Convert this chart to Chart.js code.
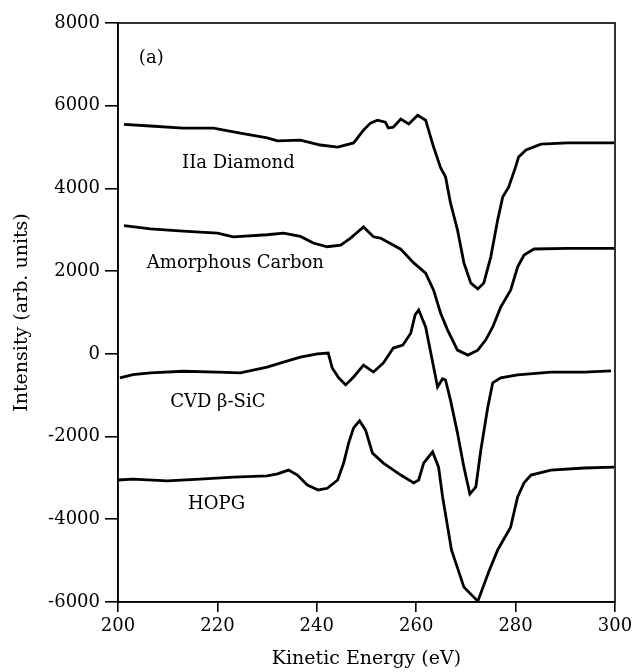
<!DOCTYPE html>
<html>
<head>
<meta charset="utf-8">
<title>Kinetic Energy spectra</title>
<script src="https://cdn.jsdelivr.net/npm/chart.js@4.4.1/dist/chart.umd.min.js"></script>
<style>
  html, body { margin: 0; padding: 0; background: #ffffff; }
  #wrap { width: 632px; height: 672px; }
</style>
</head>
<body>
<div id="wrap"><canvas id="c" width="632" height="672"></canvas></div>
<script>
// Axis ranges and tick values
const xTicks = [200, 220, 240, 260, 280, 300];
const yTicks = [-6000, -4000, -2000, 0, 2000, 4000, 6000, 8000];

// Sample names
const seriesNames = ['IIa Diamond', 'Amorphous Carbon', 'CVD \u03B2-SiC', 'HOPG'];

// IIa Diamond
const diamondE = [201.2, 206.5, 213.1, 219.2, 224.6, 230.0, 232.1, 236.7, 240.7, 244.2, 247.4, 249.4, 250.8, 252.2, 253.8, 254.4, 255.4, 256.9, 258.5, 260.3, 261.9, 263.5, 264.9, 265.9, 266.9, 268.3, 269.6, 271.0, 272.4, 273.6, 275.0, 276.4, 277.4, 278.6, 280.0, 280.6, 282.1, 285.1, 290.5, 299.8];
const diamondI = [5550, 5510, 5460, 5460, 5340, 5220, 5150, 5170, 5050, 5000, 5100, 5410, 5580, 5650, 5600, 5460, 5480, 5680, 5560, 5770, 5650, 5000, 4500, 4280, 3650, 3000, 2200, 1710, 1570, 1710, 2340, 3240, 3790, 4030, 4520, 4760, 4930, 5070, 5100, 5100];

// Amorphous Carbon
const carbonE = [201.2, 206.5, 213.1, 220.0, 223.2, 230.0, 233.3, 236.7, 239.3, 242.1, 244.8, 246.8, 249.4, 251.4, 252.8, 256.9, 259.5, 261.9, 263.5, 264.9, 266.3, 268.3, 270.4, 272.4, 274.0, 275.4, 277.0, 279.0, 280.4, 281.7, 283.7, 290.5, 299.8];
const carbonI = [3100, 3020, 2970, 2920, 2830, 2880, 2920, 2840, 2680, 2590, 2630, 2800, 3070, 2830, 2800, 2530, 2200, 1950, 1540, 990, 580, 90, -30, 90, 340, 650, 1130, 1540, 2100, 2390, 2535, 2550, 2550];

// CVD beta-SiC
const sicE = [200.4, 203.0, 206.5, 213.1, 220.0, 224.6, 230.0, 233.3, 236.7, 240.1, 242.3, 243.1, 244.4, 245.8, 247.4, 249.4, 251.4, 253.4, 255.4, 257.3, 258.9, 259.8, 260.5, 261.9, 263.5, 264.3, 265.3, 265.9, 266.9, 268.3, 269.6, 270.8, 272.0, 273.0, 274.4, 275.4, 277.0, 280.4, 287.1, 293.8, 299.2];
const sicI = [-580, -500, -460, -420, -440, -460, -320, -200, -80, 0, 20, -340, -580, -750, -560, -270, -440, -220, 140, 210, 500, 950, 1060, 650, -320, -800, -600, -630, -1120, -1910, -2740, -3390, -3220, -2330, -1290, -700, -580, -510, -440, -440, -410];

// HOPG
const hopgE = [200.0, 203.0, 209.9, 216.5, 223.2, 230.0, 232.1, 234.3, 236.1, 238.1, 240.3, 242.1, 244.2, 245.4, 246.4, 247.4, 248.6, 249.8, 251.2, 253.4, 256.9, 259.5, 260.5, 261.5, 263.3, 264.5, 265.3, 267.1, 269.6, 272.4, 274.6, 276.4, 279.0, 280.4, 281.7, 283.1, 287.1, 293.8, 299.8];
const hopgI = [-3050, -3030, -3070, -3030, -2980, -2950, -2900, -2810, -2930, -3170, -3290, -3250, -3050, -2640, -2160, -1790, -1620, -1840, -2400, -2640, -2930, -3120, -3050, -2640, -2370, -2740, -3450, -4740, -5640, -5980, -5270, -4740, -4190, -3460, -3120, -2930, -2810, -2760, -2740];

const FONT = "'DejaVu Serif', 'Liberation Serif', serif";

function pairs(xs, ys) {
  return xs.map((x, i) => ({ x: x, y: ys[i] }));
}

function trace(name, xs, ys) {
  return {
    label: name,
    data: pairs(xs, ys),
    showLine: true,
    borderColor: '#000000',
    backgroundColor: '#000000',
    borderWidth: 2.8,
    pointRadius: 0,
    tension: 0,
    fill: false
  };
}

// Text placed in data coordinates: panel tag and sample names
const panelLabels = [
  { text: '(a)', x: 204.2, y: 7030 },
  { text: seriesNames[0], x: 212.9, y: 4494 },
  { text: seriesNames[1], x: 205.8, y: 2076 },
  { text: seriesNames[2], x: 210.5, y: -1285 },
  { text: seriesNames[3], x: 214.1, y: -3751 }
];

const frameAndText = {
  id: 'frameAndText',
  afterDatasetsDraw(chart) {
    const { ctx, chartArea: a, scales } = chart;
    ctx.save();
    // closed frame around the plot
    ctx.strokeStyle = '#000000';
    ctx.lineWidth = 1.6;
    ctx.strokeRect(a.left, a.top, a.right - a.left, a.bottom - a.top);
    // labels
    ctx.fillStyle = '#000000';
    ctx.font = '18px ' + FONT;
    ctx.textAlign = 'left';
    ctx.textBaseline = 'alphabetic';
    panelLabels.forEach(l => {
      ctx.fillText(l.text, scales.x.getPixelForValue(l.x), scales.y.getPixelForValue(l.y));
    });
    ctx.restore();
  }
};

new Chart(document.getElementById('c'), {
  type: 'scatter',
  data: {
    datasets: [
      trace(seriesNames[0], diamondE, diamondI),
      trace(seriesNames[1], carbonE, carbonI),
      trace(seriesNames[2], sicE, sicI),
      trace(seriesNames[3], hopgE, hopgI)
    ]
  },
  options: {
    responsive: false,
    animation: false,
    devicePixelRatio: 1,
    layout: { padding: { top: 23, right: 17, left: 0, bottom: 0 } },
    plugins: {
      legend: { display: false },
      tooltip: { enabled: false }
    },
    scales: {
      x: {
        type: 'linear',
        min: xTicks[0],
        max: xTicks[xTicks.length - 1],
        afterBuildTicks(scale) { scale.ticks = xTicks.map(v => ({ value: v })); },
        afterFit(scale) { scale.height = 70; scale.paddingLeft = 0; scale.paddingRight = 0; },
        border: { display: true, color: '#000000', width: 1.6 },
        grid: { drawOnChartArea: false, drawTicks: true, tickLength: 10, color: '#000000', lineWidth: 1.6 },
        ticks: {
          color: '#000000',
          padding: 4,
          font: { family: FONT, size: 18 },
          callback: v => String(v)
        },
        title: {
          display: true,
          text: 'Kinetic Energy (eV)',
          color: '#000000',
          font: { family: FONT, size: 19 },
          padding: { top: 0, bottom: 2 }
        }
      },
      y: {
        type: 'linear',
        min: yTicks[0],
        max: yTicks[yTicks.length - 1],
        afterBuildTicks(scale) { scale.ticks = yTicks.map(v => ({ value: v })); },
        afterFit(scale) { scale.width = 118; scale.paddingTop = 0; scale.paddingBottom = 0; },
        border: { display: true, color: '#000000', width: 1.6 },
        grid: { drawOnChartArea: false, drawTicks: true, tickLength: 13, color: '#000000', lineWidth: 1.6 },
        ticks: {
          color: '#000000',
          padding: 5,
          font: { family: FONT, size: 18 },
          callback: v => String(v)
        },
        title: {
          display: true,
          text: 'Intensity (arb. units)',
          color: '#000000',
          font: { family: FONT, size: 19 },
          padding: { top: 11, bottom: 0 }
        }
      }
    }
  },
  plugins: [frameAndText]
});
</script>
</body>
</html>
